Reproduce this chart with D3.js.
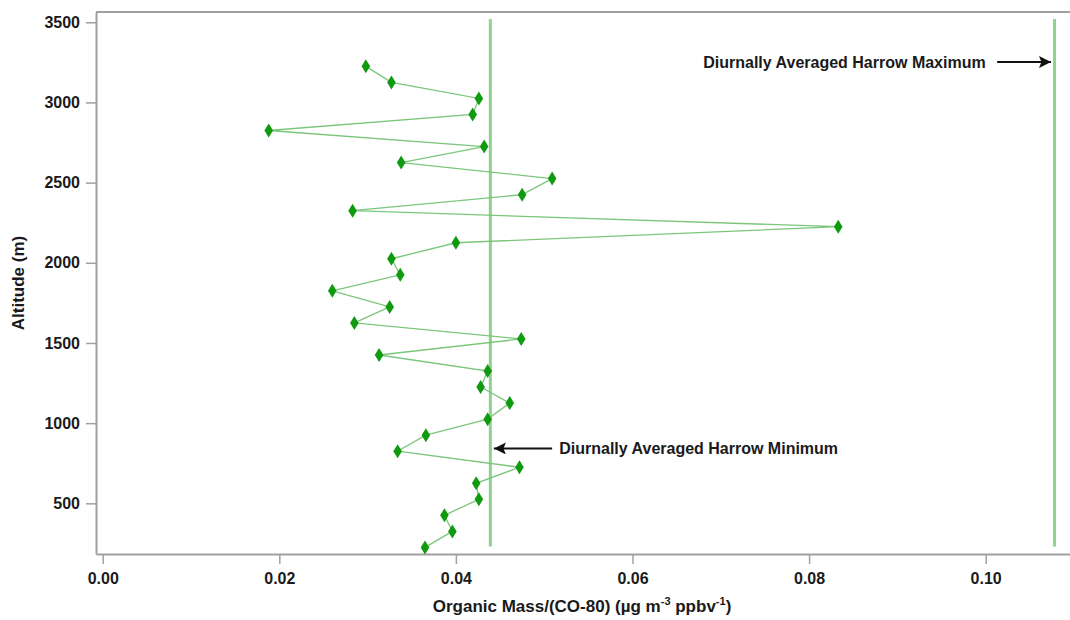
<!DOCTYPE html>
<html>
<head>
<meta charset="utf-8">
<script src="https://cdn.jsdelivr.net/npm/d3@7"></script>
<style>
  body { margin: 0; background: #fff; }
  svg { font-family: "Liberation Sans", Arial, sans-serif; }
</style>
</head>
<body>
<script>
// altitude (m) and organic mass ratio
var altitudes = [225, 325, 425, 525, 625, 725, 825, 925, 1025, 1125, 1225, 1325, 1425, 1525, 1625, 1725,
  1825, 1925, 2025, 2125, 2225, 2325, 2425, 2525, 2625, 2725, 2825, 2925, 3025, 3125, 3225];
var ratios = [0.0365, 0.0396, 0.0387, 0.0426, 0.0423, 0.0472, 0.0334, 0.0366, 0.0436, 0.0461, 0.0428, 0.0436,
  0.0313, 0.0474, 0.0285, 0.0325, 0.0260, 0.0337, 0.0327, 0.0400, 0.0833, 0.0283, 0.0475, 0.0509,
  0.0338, 0.0432, 0.0188, 0.0419, 0.0426, 0.0327, 0.0298];

var harrowMin = 0.0439;
var harrowMax = 0.1078;
var refSpan = [230, 3520];

var xTicks = [0, 0.02, 0.04, 0.06, 0.08, 0.10];
var yTicks = [500, 1000, 1500, 2000, 2500, 3000, 3500];

var W = 1070, H = 620;
var mLeft = 96, mTop = 12, mBottom = 554;

var svg = d3.select('body')
  .append('svg')
  .attr('width', W)
  .attr('height', H);

var x = d3.scaleLinear().domain([-0.00076, 0.10955]).range([mLeft, W]);
var y = d3.scaleLinear().domain([184, 3564]).range([mBottom, mTop]);

var axisColor = '#a0a0a0';

// x axis
var gx = svg.append('g')
  .attr('transform', 'translate(0,' + mBottom + ')')
  .call(d3.axisBottom(x).tickValues(xTicks).tickFormat(d3.format('.2f')).tickSize(10).tickSizeOuter(0).tickPadding(9));

// y axis
var gy = svg.append('g')
  .attr('transform', 'translate(' + mLeft + ',0)')
  .call(d3.axisLeft(y).tickValues(yTicks).tickFormat(d3.format('d')).tickSize(10).tickSizeOuter(0).tickPadding(6));

[gx, gy].forEach(function(g){
  g.select('.domain').attr('stroke', axisColor).attr('stroke-width', 2);
  g.selectAll('.tick line').attr('stroke', axisColor).attr('stroke-width', 1.5);
  g.selectAll('.tick text')
    .attr('fill', '#1a1a1a')
    .style('font-size', '16px')
    .style('font-weight', 'bold');
});

// top frame line
svg.append('line')
  .attr('x1', mLeft).attr('x2', W)
  .attr('y1', mTop).attr('y2', mTop)
  .attr('stroke', axisColor)
  .attr('stroke-width', 2);

// axis titles
var xt = svg.append('text')
  .attr('x', 582)
  .attr('y', 612)
  .attr('text-anchor', 'middle')
  .attr('fill', '#1a1a1a')
  .style('font-size', '17px')
  .style('font-weight', 'bold');
xt.append('tspan').text('Organic Mass/(CO-80) (\u00b5g m');
xt.append('tspan').attr('dy', -7).style('font-size', '11px').text('-3');
xt.append('tspan').attr('dy', 7).text(' ppbv');
xt.append('tspan').attr('dy', -7).style('font-size', '11px').text('-1');
xt.append('tspan').attr('dy', 7).text(')');

svg.append('text')
  .attr('transform', 'translate(24,283) rotate(-90)')
  .attr('text-anchor', 'middle')
  .attr('fill', '#1a1a1a')
  .style('font-size', '17px')
  .style('font-weight', 'bold')
  .text('Altitude (m)');

// Harrow reference lines
svg.selectAll('.ref')
  .data([harrowMin, harrowMax])
  .enter()
  .append('line')
  .attr('class', 'ref')
  .attr('x1', d => x(d)).attr('x2', d => x(d))
  .attr('y1', y(refSpan[0])).attr('y2', y(refSpan[1]))
  .attr('stroke', '#8fd18f')
  .attr('stroke-width', 3);

// profile line
var pts = altitudes.map((a, i) => [ratios[i], a]);
svg.append('path')
  .datum(pts)
  .attr('fill', 'none')
  .attr('stroke', '#7cc67c')
  .attr('stroke-width', 1.3)
  .attr('d', d3.line().x(d => x(d[0])).y(d => y(d[1])));

// diamond markers
svg.selectAll('.pt')
  .data(pts)
  .enter()
  .append('path')
  .attr('class', 'pt')
  .attr('transform', d => 'translate(' + x(d[0]) + ',' + y(d[1]) + ')')
  .attr('d', 'M0,-7L4.3,0L0,7L-4.3,0Z')
  .attr('fill', '#109a10');

// annotations
svg.append('defs').append('marker')
  .attr('id', 'head')
  .attr('viewBox', '0 0 10 10')
  .attr('refX', 10).attr('refY', 5)
  .attr('markerWidth', 6).attr('markerHeight', 6)
  .attr('markerUnits', 'strokeWidth')
  .attr('orient', 'auto')
  .append('path')
  .attr('d', 'M0,0L10,5L0,10L2,5Z')
  .attr('fill', '#111');

var notes = [
  {text: 'Diurnally Averaged Harrow Maximum', alt: 3252, from: 0.1013, to: 0.1074, tx: 0.1000, anchor: 'end'},
  {text: 'Diurnally Averaged Harrow Minimum', alt: 842, from: 0.0509, to: 0.0443, tx: 0.0517, anchor: 'start'}
];

notes.forEach(function(n){
  svg.append('line')
    .attr('x1', x(n.from)).attr('x2', x(n.to))
    .attr('y1', y(n.alt)).attr('y2', y(n.alt))
    .attr('stroke', '#111')
    .attr('stroke-width', 2)
    .attr('marker-end', 'url(#head)');
  svg.append('text')
    .attr('x', x(n.tx))
    .attr('y', y(n.alt) + 5.5)
    .attr('text-anchor', n.anchor)
    .attr('fill', '#1a1a1a')
    .style('font-size', '16px')
    .style('font-weight', 'bold')
    .text(n.text);
});
</script>
</body>
</html>
